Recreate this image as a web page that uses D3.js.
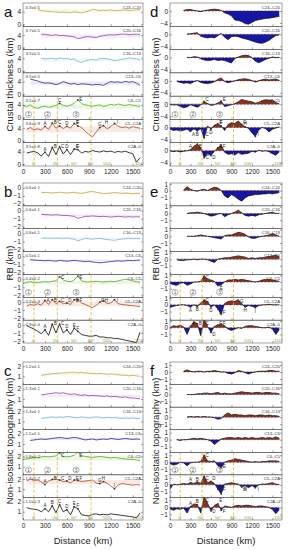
<!DOCTYPE html>
<html>
<head>
<meta charset="utf-8">
<script src="https://cdn.jsdelivr.net/npm/d3@7/dist/d3.min.js"></script>
<style>
  body { margin: 0; background: #fff; }
  text { font-family: Arial, "Liberation Sans", sans-serif; }
</style>
</head>
<body>
<div id="chart"></div>
<script>
// Distance grid (km); every profile ends at 1600 km, shorter ones start later
const dist = [0,50,100,150,200,250,300,350,400,450,500,550,600,650,700,750,800,850,900,950,1000,1050,1100,1150,1200,1250,1300,1350,1400,1450,1500,1550,1600];

const windows = ["C24–C20", "C20–C16", "C16–C13", "C13–C6", "C6–C5", "C5–C2A", "C2A–0"];
const lineColors = ["#c9b24a", "#a548c8", "#80bcdc", "#3a3ab4", "#5cb82c", "#c2522c", "#222222"];
const xTicks = [0, 300, 600, 900, 1200, 1500];

// Crustal thickness (km)
const a1 = [4.6,4.4,4.2,4.1,4.0,3.9,3.8,3.9,3.8,3.7,4.0,3.8,3.6,3.9,4.2,4.8,4.6,4.3,4.5,4.4,4.6,4.3,4.4,4.5,4.6,4.4,4.5,4.7,4.6];
const a2 = [4.3,4.2,4.0,3.9,4.1,3.8,3.9,3.7,3.6,3.4,2.8,3.1,3.4,3.5,3.3,3.2,3.6,3.8,4.0,4.1,4.0,4.2,4.3,4.3,4.1,4.2,4.3,4.2];
const a3 = [4.0,3.8,3.9,4.0,3.7,4.1,3.9,4.0,3.6,3.8,3.0,2.7,3.2,3.5,3.6,3.4,3.9,4.0,3.8,3.6,3.2,3.4,3.7,3.9,4.1,4.0,3.8,3.5];
const a4 = [4.8,4.5,4.2,3.8,3.5,3.6,3.4,3.0,3.4,4.0,3.6,3.2,3.4,3.0,3.3,3.2,3.1,2.9,3.1,3.0,2.8,3.5,4.0,3.8,3.9,3.7,4.1,3.8,4.0,3.5,2.8];
const a5 = [3.8,3.5,4.0,3.2,2.9,3.4,3.6,3.2,3.5,3.8,4.5,3.8,3.6,3.9,4.5,5.6,4.4,4.0,3.8,3.6,3.8,4.0,3.5,3.8,4.2,3.9,4.3,4.0,3.8,4.1,3.9,3.7,3.5];
const a6 = [3.6,4.2,3.5,3.8,3.4,4.6,3.6,5.6,4.0,4.7,3.9,4.6,4.0,5.5,4.7,4.2,3.0,2.0,1.2,2.8,4.2,4.8,3.8,4.5,5.5,4.6,4.2,4.4,4.0,4.5,4.2,4.0];
const a7 = [3.5,3.8,4.0,3.6,2.5,3.8,2.4,5.3,3.0,5.5,3.2,4.6,3.0,4.8,4.6,3.5,4.0,3.8,4.3,4.0,3.8,4.2,3.9,4.1,3.7,4.0,3.8,4.1,3.6,3.3,0.6,2.0];
const statsA = ["4.3±0.5", "3.7±0.5", "3.5±0.5", "3.5±0.5", "3.5±0.7", "3.6±0.9", "3.5±0.8"];

// RB (km)
const b1 = [-0.55,-0.6,-0.6,-0.65,-0.6,-0.55,-0.6,-0.65,-0.6,-0.55,-0.65,-0.7,-0.6,-0.5,-0.45,-0.55,-0.65,-0.75,-0.7,-0.65,-0.6,-0.65,-0.7,-0.65,-0.7,-0.75,-0.7,-0.7];
const b2 = [-0.45,-0.5,-0.5,-0.55,-0.5,-0.55,-0.6,-0.6,-0.65,-0.7,-0.95,-0.85,-0.7,-0.7,-0.65,-0.7,-0.75,-0.7,-0.75,-0.8,-0.75,-0.7,-0.75,-0.8,-0.75,-0.8,-0.75,-0.8];
const b3 = [-0.6,-0.55,-0.6,-0.6,-0.55,-0.6,-0.6,-0.55,-0.65,-0.7,-0.9,-0.75,-0.6,-0.65,-0.7,-0.65,-0.6,-0.7,-0.75,-0.8,-0.85,-0.75,-0.7,-0.65,-0.6,-0.65,-0.6,-0.65];
const b4 = [-0.4,-0.45,-0.5,-0.5,-0.55,-0.5,-0.55,-0.6,-0.5,-0.55,-0.6,-0.55,-0.5,-0.55,-0.6,-0.65,-0.6,-0.7,-0.75,-0.8,-0.75,-0.7,-0.65,-0.6,-0.55,-0.6,-0.55,-0.5,-0.55,-0.5,-0.45];
const b5 = [-0.5,-0.4,-0.3,-0.45,-0.4,-0.35,-0.3,-0.35,-0.25,-0.2,0.3,-0.1,-0.25,-0.3,-0.1,0.4,-0.2,-0.3,-0.35,-0.3,-0.25,-0.3,-0.35,-0.3,-0.25,-0.3,-0.2,-0.1,0.0,-0.1,-0.2,-0.3,-0.4];
const b6 = [-0.5,-0.3,-0.4,-0.2,-0.4,0.2,-0.3,0.3,-0.2,0.1,-0.2,-0.1,-0.3,0.3,0.3,-0.1,-0.3,-0.5,-0.7,-0.4,0.0,0.2,-0.2,-0.1,0.3,-0.2,-0.3,-0.35,-0.4,-0.45,-0.5,-0.55];
const b7 = [-0.1,-0.3,-0.5,-0.8,-1.1,-0.6,-1.3,0.1,-1.0,0.1,-1.0,-0.6,-1.2,-0.4,-0.8,-1.2,-1.3,-1.4,-1.4,-1.3,-1.5,-1.5,-1.6,-1.6,-1.7,-1.7,-1.8,-1.9,-2.0,-2.1,-2.2,-0.9];
const statsB = ["0.6±0.1", "0.6±0.1", "0.6±0.1", "0.5±0.1", "0.4±0.2", "0.2±0.3", "0.9±0.4"];

// Non-isostatic topography (km)
const c1 = [1.1,1.15,1.2,1.25,1.3,1.3,1.35,1.35,1.4,1.4,1.35,1.4,1.35,1.3,1.3,1.25,1.3,1.25,1.2,1.25,1.2,1.15,1.1,1.1,1.05,1.1,1.05,1.0];
const c2 = [1.4,1.45,1.5,1.55,1.6,1.55,1.6,1.5,1.45,1.5,1.4,1.35,1.4,1.3,1.35,1.3,1.3,1.25,1.3,1.2,1.25,1.2,1.15,1.2,1.1,1.1,1.05,1.0];
const c3 = [1.3,1.35,1.4,1.45,1.4,1.45,1.4,1.5,1.45,1.4,1.35,1.45,1.4,1.35,1.4,1.45,1.4,1.35,1.4,1.35,1.4,1.35,1.3,1.35,1.3,1.35,1.3,1.3];
const c4 = [1.35,1.4,1.45,1.5,1.45,1.5,1.55,1.6,1.65,1.6,1.55,1.6,1.65,1.6,1.5,1.4,1.45,1.5,1.4,1.45,1.5,1.45,1.55,1.5,1.45,1.5,1.55,1.5,1.45,1.5,1.45];
const c5 = [1.7,1.75,1.8,1.9,1.85,1.95,2.0,1.95,2.0,2.05,2.35,2.0,1.95,2.0,2.1,2.45,2.05,2.0,1.95,1.9,1.95,2.0,1.95,1.9,1.85,1.9,1.85,1.8,1.75,1.7,1.7,1.65,1.6];
const c6 = [1.8,2.0,1.85,1.9,1.7,1.45,1.8,1.95,2.0,1.9,1.75,1.8,1.6,1.9,1.85,1.75,1.8,1.85,1.9,1.6,1.55,1.75,1.6,1.3,1.05,1.4,1.55,1.5,1.45,1.4,1.45,1.4];
const c7 = [1.4,1.3,1.25,1.2,1.0,1.3,1.0,1.6,0.9,1.7,1.0,1.2,0.7,1.5,1.3,0.7,0.65,0.6,0.75,0.8,0.7,0.75,0.7,0.8,0.75,0.7,0.65,0.6,0.55,0.5,0.4,0.9];
const statsC = ["1.2±0.1", "1.3±0.1", "1.4±0.1", "1.5±0.1", "1.8±0.2", "1.7±0.2", "1.0±0.3"];

// Anomalies: crustal thickness (panel d)
const thk1 = [0.2,0.5,0.5,0.2,0.0,-0.2,0.1,0.3,0.5,0.6,0.5,0.2,-0.6,-1.0,-1.6,-3.0,-3.2,-3.5,-4.2,-4.4,-3.8,-3.2,-2.9,-2.7,-2.5,-2.4,-2.2,-2.0,-1.8];
const thk2 = [0.1,0.2,0.4,0.5,-0.6,-1.0,-1.2,-1.0,-1.2,-0.5,0.3,-1.0,-1.8,-0.8,-0.6,-0.8,-1.2,-1.5,-1.8,-2.2,-2.6,-2.9,-3.0,-2.6,-2.0,-1.2,-0.4,-0.2];
const thk3 = [0.1,0.0,0.3,0.2,-0.4,-0.8,-1.0,-0.9,-0.6,-1.0,-0.8,-1.0,-1.4,-1.8,-0.3,0.2,0.6,0.8,0.7,0.0,-1.2,-1.7,-1.2,-0.6,-0.2,0.2,0.0,0.1];
const thk4 = [-0.2,-0.5,-0.8,-0.6,-0.9,-0.3,0.1,-0.5,-0.8,-0.9,-0.7,-0.3,0.5,1.0,-0.2,-0.6,-0.3,0.0,0.4,0.6,0.7,0.5,0.1,-0.4,0.0,0.4,0.6,0.3,0.5,0.6,0.2];
const thk5 = [-0.1,-0.3,-0.2,-0.8,-1.2,-0.9,-0.2,-0.6,-1.0,-0.3,0.9,0.2,-0.4,-0.2,0.4,1.0,-0.8,-0.5,-0.2,0.2,0.8,1.6,1.2,1.0,0.8,0.3,0.6,1.2,1.5,1.2,1.4,0.5,0.1];
const thk6 = [-0.5,-1.0,-0.8,-1.2,-0.9,-0.6,-1.3,-0.5,-1.1,-0.4,-3.5,0.5,-0.6,0.8,1.2,0.5,-1.0,1.0,1.6,1.3,2.2,1.0,0.2,-0.3,-1.8,-3.0,-0.8,0.0,-0.4,-1.5,-0.6,-0.2,0.2];
const thk7 = [0.0,-0.3,-0.1,-0.4,-0.2,0.0,0.3,1.5,2.2,1.0,-2.3,-1.0,-1.6,-0.2,1.0,1.8,-0.5,-1.2,-1.0,-1.4,-0.6,-1.2,-1.0,-0.8,-0.2,-0.5,0.2,-0.2,0.0,-0.3,-1.0,-1.5,-0.4];

// Anomalies: RB (panel e)
const rb1 = [0.1,0.6,0.2,0.0,-0.1,0.1,0.2,0.0,0.3,0.5,0.4,0.0,-0.8,-1.1,-0.6,-0.9,-1.3,-1.6,-1.1,-0.8,-0.7,-0.6,-0.6,-0.5,-0.5,-0.4,-0.5,-0.4,-0.3];
const rb2 = [0.0,0.1,0.1,0.2,0.1,0.0,-0.2,-0.4,-0.3,-0.1,0.0,-0.5,-0.2,0.0,0.2,0.5,0.1,-0.3,-0.4,-0.3,-0.4,-0.2,-0.1,0.0,0.1,0.2,0.0,0.0];
const rb3 = [0.0,0.0,0.0,0.1,0.2,0.1,0.0,-0.1,-0.2,-0.3,-0.4,0.1,0.2,0.2,0.4,0.6,0.5,0.3,-0.1,-0.3,-0.3,-0.1,0.0,0.1,0.2,0.4,0.2,0.0];
const rb4 = [-0.1,-0.2,-0.2,-0.1,-0.1,0.0,-0.1,0.0,0.0,-0.1,-0.3,-0.5,0.0,0.1,0.2,0.2,0.3,0.4,0.5,0.4,0.3,0.1,0.2,0.1,0.2,0.2,0.3,0.4,0.5,0.6,0.3];
const rb5 = [-0.2,-0.4,-0.5,-0.2,-0.1,-0.5,-0.3,0.0,0.0,0.1,0.9,0.4,0.3,0.1,-0.6,-0.4,0.0,0.3,0.3,0.4,0.3,0.4,0.3,0.2,0.1,0.0,0.1,0.3,0.4,0.4,0.3,0.2,0.1];
const rb6 = [-0.4,-0.2,-0.1,0.0,0.0,-0.1,-0.3,0.0,-0.2,0.3,0.7,0.5,-0.3,0.0,-0.6,-1.4,0.2,0.5,0.6,0.5,0.8,0.1,-0.3,-0.1,-0.2,-0.4,-0.1,0.0,0.0,0.1,0.0,0.0,0.0];
const rb7 = [0.0,0.3,0.2,0.4,0.1,-1.0,0.2,0.9,0.6,-1.2,1.3,0.2,-0.7,0.2,0.4,0.5,0.3,-0.2,-0.4,-0.2,0.0,-0.1,0.2,0.3,0.3,0.2,0.1,0.0,0.0,0.1,-0.2,-1.0,-0.3];

// Anomalies: non-isostatic topography (panel f)
const nt1 = [0.1,0.3,0.1,0.0,0.1,0.1,0.0,0.1,0.1,0.2,0.1,0.0,0.0,-0.2,-0.3,-0.1,0.2,0.1,-0.1,-0.3,-0.1,0.0,0.1,0.1,0.1,0.2,0.2,0.1,0.1];
const nt2 = [0.0,0.0,0.0,0.1,0.1,0.2,0.2,0.1,0.2,0.3,0.1,0.2,0.1,0.1,0.2,0.3,0.4,0.3,0.3,0.2,0.3,0.3,0.2,0.3,0.3,0.2,0.2,0.1];
const nt3 = [0.0,0.1,0.0,0.1,0.0,0.1,0.0,0.0,-0.1,-0.3,-0.2,0.3,0.6,0.3,0.4,0.3,0.3,0.2,0.3,0.3,0.2,0.3,0.3,0.2,0.3,0.2,0.2,0.1];
const nt4 = [0.0,-0.1,0.0,0.0,0.1,0.2,0.1,0.2,0.1,0.0,-0.2,-0.7,-0.3,0.1,0.2,0.3,0.3,0.2,0.3,0.2,0.3,0.2,0.3,0.2,0.2,0.3,0.2,0.3,0.2,0.4,0.2];
const nt5 = [-0.2,-0.4,-0.3,0.0,-0.1,-0.5,-0.1,0.0,0.0,0.1,1.0,0.2,0.1,0.2,-0.5,-0.8,0.0,0.2,0.3,0.5,0.4,0.3,0.2,0.1,0.0,0.1,0.0,0.1,0.1,0.2,0.2,0.2,0.1];
const nt6 = [-0.6,0.1,0.0,0.1,0.2,0.1,0.3,0.2,0.4,0.2,1.2,0.3,0.5,0.2,-0.6,-1.3,0.1,0.2,0.3,0.2,0.1,-0.3,-0.1,-0.4,-0.1,-0.4,0.0,0.1,0.1,0.2,0.3,0.1,0.0];
const nt7 = [-0.2,-0.4,-0.2,-0.3,-0.1,-0.8,0.1,0.5,0.4,-0.8,1.5,0.6,-0.5,0.3,0.5,-0.4,0.2,0.1,0.0,0.2,0.3,0.2,0.3,0.3,0.2,0.1,0.2,0.2,0.1,0.0,-0.3,-0.9,-0.3];

// Annotations
const boundaryKm = [150, 470, 930];
const degLabels = ["0°", "20°", "50°", "80°", "100°", "120°"];
const degKm = [150, 450, 700, 930, 1150, 1590];
const zoneLabels = ["1", "2", "3"];
const zoneKm = [75, 335, 725];
const peaks5 = [["C", 500], ["E", 750]];
const peaks6 = [["A", 300], ["B", 400], ["C", 500], ["D", 600], ["E", 700], ["F", 750], ["G", 1050], ["H", 1100], ["I", 1250]];
const peaks7 = [["A", 300], ["B", 400], ["C", 500], ["D", 600], ["E", 700], ["F", 750]];

const panels = [
  {letter: "a", col: 0, top: 3, bottom: 166, series: [a1,a2,a3,a4,a5,a6,a7], stats: statsA, domain: [-0.65, 6.8], ticks: [0, 4], title: "Crustal thickness (km)"},
  {letter: "b", col: 0, top: 183, bottom: 343, series: [b1,b2,b3,b4,b5,b6,b7], stats: statsB, domain: [-2.25, 0.6], ticks: [-2, -1, 0], title: "RB (km)", negMean: true},
  {letter: "c", col: 0, top: 362, bottom: 520, series: [c1,c2,c3,c4,c5,c6,c7], stats: statsC, domain: [0.2, 2.4], ticks: [1, 2], title: "Non-isostatic topography (km)"},
  {letter: "d", col: 1, top: 3, bottom: 166, series: [thk1,thk2,thk3,thk4,thk5,thk6,thk7], domain: [-5.1, 2.7], ticks: [-4, 0], title: "Crustal thickness (km)"},
  {letter: "e", col: 1, top: 183, bottom: 343, series: [rb1,rb2,rb3,rb4,rb5,rb6,rb7], domain: [-2.3, 1.15], ticks: [-1, 0, 1], title: "RB (km)"},
  {letter: "f", col: 1, top: 362, bottom: 520, series: [nt1,nt2,nt3,nt4,nt5,nt6,nt7], domain: [-1.8, 1.43], ticks: [-1, 0, 1], title: "Non-isostatic topography (km)"}
];

const cols = [{x0: 23, x1: 143}, {x0: 170, x1: 282}];

const svg = d3.select("#chart").append("svg").attr("width", 289).attr("height", 550);

panels.forEach(p => {
  const col = cols[p.col];
  const w = col.x1 - col.x0;
  const subH = (p.bottom - p.top) / 7;
  const x = d3.scaleLinear().domain([0, 1640]).range([0, w]);
  const y = d3.scaleLinear().domain(p.domain).range([subH, 0]);
  const isAnom = p.col === 1;

  p.series.forEach((vals, i) => {
    const g = svg.append("g").attr("transform", `translate(${col.x0},${p.top + i * subH})`);
    const pts = vals.map((v, k) => ({km: dist[dist.length - vals.length + k], v}));
    const clipId = `clip-${p.letter}${i}`;
    g.append("clipPath").attr("id", clipId).append("rect").attr("width", w).attr("height", subH);
    const inner = g.append("g").attr("clip-path", `url(#${clipId})`);
    const line = d3.line().x(d => x(d.km)).y(d => y(d.v));

    if (!isAnom) {
      // mean ± std band (not drawn for the black C2A–0 profile)
      if (i < 6) {
        const parts = p.stats[i].split("±").map(Number);
        const m = p.negMean ? -parts[0] : parts[0];
        inner.append("rect")
          .attr("x", x(pts[0].km)).attr("width", x(1600) - x(pts[0].km))
          .attr("y", y(m + parts[1])).attr("height", y(m - parts[1]) - y(m + parts[1]))
          .attr("fill", lineColors[i]).attr("opacity", 0.12);
      }
      inner.append("path").datum(pts).attr("d", line)
        .attr("fill", "none").attr("stroke", lineColors[i]).attr("stroke-width", 0.9);
    } else {
      const area = d3.area().x(d => x(d.km)).y0(y(0)).y1(d => y(d.v));
      const posId = `pos-${p.letter}${i}`, negId = `neg-${p.letter}${i}`;
      g.append("clipPath").attr("id", posId).append("rect").attr("width", w).attr("height", y(0));
      g.append("clipPath").attr("id", negId).append("rect").attr("y", y(0)).attr("width", w).attr("height", subH - y(0));
      inner.append("g").attr("clip-path", `url(#${posId})`).append("path").datum(pts).attr("d", area)
        .attr("fill", "#8a3416").attr("stroke", "#e05050").attr("stroke-width", 0.4);
      inner.append("g").attr("clip-path", `url(#${negId})`).append("path").datum(pts).attr("d", area)
        .attr("fill", "#1616a6");
      inner.append("line").attr("x1", x(pts[0].km)).attr("x2", x(1600)).attr("y1", y(0)).attr("y2", y(0))
        .attr("stroke", "#222").attr("stroke-width", 0.5).attr("stroke-dasharray", "2,1.5");
      inner.append("path").datum(pts).attr("d", line)
        .attr("fill", "none").attr("stroke", "#111").attr("stroke-width", 0.7);
    }

    // boundaries and annotations in the lower three windows
    if (i >= 4) {
      boundaryKm.forEach(km => {
        inner.append("line").attr("x1", x(km)).attr("x2", x(km)).attr("y1", 0).attr("y2", subH)
          .attr("stroke", "#d9b62a").attr("stroke-width", 0.8).attr("stroke-dasharray", "3,2");
      });
      const peaks = i === 4 ? peaks5 : i === 5 ? peaks6 : peaks7;
      peaks.forEach(([lab, km]) => {
        const pt = pts.find(d => d.km === km);
        if (!pt) return;
        const below = isAnom && pt.v < 0;
        let ty = below ? y(pt.v) + 5 : y(pt.v) - 1.5;
        let tx = x(km);
        if (ty > subH - 6.5) { ty = Math.min(ty, subH - 6.5); tx += 3; }
        if (ty < 5) { ty = 5; tx += 3; }
        inner.append("circle").attr("cx", x(km)).attr("cy", y(pt.v)).attr("r", 0.9).attr("fill", "#333");
        inner.append("text").attr("x", tx).attr("y", ty)
          .attr("text-anchor", "middle").attr("font-size", 4.5).attr("fill", "#222").text(lab);
      });
    }
    if (i === 4) {
      zoneLabels.forEach((lab, k) => {
        const cx = x(zoneKm[k]), cy = subH - 5;
        g.append("circle").attr("cx", cx).attr("cy", cy).attr("r", 3)
          .attr("fill", "none").attr("stroke", "#666").attr("stroke-width", 0.5);
        g.append("text").attr("x", cx).attr("y", cy + 1.7).attr("text-anchor", "middle")
          .attr("font-size", 4.8).attr("fill", "#555").text(lab);
      });
    }
    if (i === 6) {
      degLabels.forEach((lab, k) => {
        g.append("text").attr("x", x(degKm[k])).attr("y", subH - 1.2).attr("text-anchor", "middle")
          .attr("font-size", 4.3).attr("fill", "#9a9a10").text(lab);
      });
    }

    // frame and ticks
    g.append("rect").attr("width", w).attr("height", subH)
      .attr("fill", "none").attr("stroke", "#444").attr("stroke-width", 0.5);
    const ya = g.append("g").call(d3.axisLeft(y).tickValues(p.ticks).tickSize(-2).tickPadding(2).tickFormat(d3.format("d")));
    ya.select(".domain").remove();
    ya.selectAll("line").attr("stroke", "#444").attr("stroke-width", 0.5);
    ya.selectAll("text").attr("font-size", 6.5).attr("font-family", "Arial").attr("fill", "#222");
    const yr = g.append("g").attr("transform", `translate(${w},0)`)
      .call(d3.axisRight(y).tickValues(p.ticks).tickSize(-2).tickFormat(""));
    yr.select(".domain").remove();
    yr.selectAll("line").attr("stroke", "#444").attr("stroke-width", 0.5);
    const xa = g.append("g").attr("transform", `translate(0,${subH})`)
      .call(d3.axisBottom(x).tickValues(xTicks).tickSize(-2).tickPadding(3).tickFormat(i === 6 ? d3.format("d") : ""));
    xa.select(".domain").remove();
    xa.selectAll("line").attr("stroke", "#444").attr("stroke-width", 0.5);
    xa.selectAll("text").attr("font-size", 6.5).attr("font-family", "Arial").attr("fill", "#222");

    // window and statistics labels
    g.append("text").attr("x", w - 2).attr("y", 5.5).attr("text-anchor", "end")
      .attr("font-size", 4.3).attr("fill", "#333").text(windows[i]);
    if (!isAnom) {
      g.append("text").attr("x", 2.5).attr("y", 5.5)
        .attr("font-size", 4.3).attr("fill", "#333").text(p.stats[i]);
    }
  });

  // panel letter and y title
  svg.append("text").attr("x", p.col === 0 ? 4 : 150).attr("y", p.top + 14)
    .attr("font-size", 15).attr("fill", "#111").text(p.letter);
  const midY = (p.top + p.bottom) / 2;
  const tx = p.col === 0 ? 10 : 156;
  svg.append("text").attr("transform", `translate(${tx},${midY}) rotate(-90)`)
    .attr("text-anchor", "middle").attr("dy", "0.35em").attr("font-size", 9.5).attr("fill", "#222").text(p.title);
});

// x titles
cols.forEach(col => {
  svg.append("text").attr("x", (col.x0 + col.x1) / 2).attr("y", 544).attr("text-anchor", "middle")
    .attr("font-size", 9.5).attr("fill", "#222").text("Distance (km)");
});
</script>
</body>
</html>
